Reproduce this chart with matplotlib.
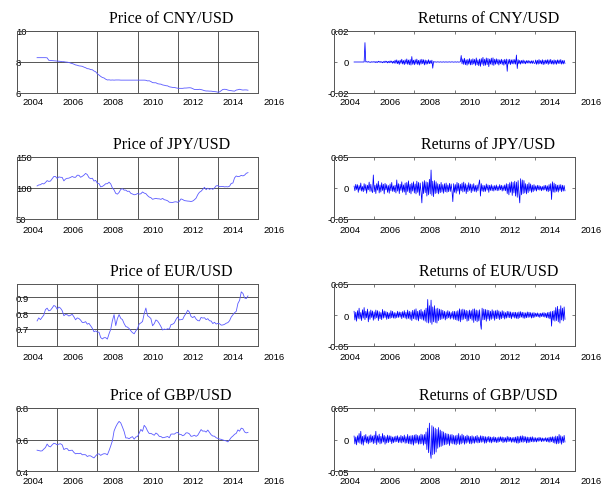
import numpy as np
import matplotlib
matplotlib.use("Agg")
import matplotlib.pyplot as plt
from matplotlib.transforms import ScaledTranslation

# ---------------- data ----------------
titles_price = ["Price of CNY/USD", "Price of JPY/USD", "Price of EUR/USD", "Price of GBP/USD"]
titles_ret = ["Returns of CNY/USD", "Returns of JPY/USD", "Returns of EUR/USD", "Returns of GBP/USD"]

x_ticks = [2004, 2006, 2008, 2010, 2012, 2014, 2016]
x_ticklabels = ["2004", "2006", "2008", "2010", "2012", "2014", "2016"]

# monthly prices, Jan 2005 .. Jul 2015
cny_price = [
    8.28, 8.28, 8.28, 8.28, 8.28, 8.28, 8.27, 8.11, 8.10, 8.09, 8.08, 8.07,
    8.06, 8.05, 8.04, 8.02, 8.02, 8.00, 7.99, 7.97, 7.93, 7.90, 7.86, 7.81,
    7.79, 7.75, 7.74, 7.72, 7.67, 7.63, 7.57, 7.56, 7.51, 7.50, 7.42, 7.37,
    7.24, 7.16, 7.07, 7.00, 6.97, 6.89, 6.84, 6.85, 6.83, 6.84, 6.83, 6.84,
    6.84, 6.84, 6.83, 6.83, 6.83, 6.83, 6.83, 6.83, 6.83, 6.83, 6.83, 6.83,
    6.83, 6.83, 6.83, 6.83, 6.83, 6.82, 6.78, 6.79, 6.74, 6.67, 6.66, 6.66,
    6.60, 6.58, 6.57, 6.52, 6.50, 6.47, 6.46, 6.40, 6.38, 6.36, 6.36, 6.33,
    6.31, 6.30, 6.30, 6.30, 6.32, 6.32, 6.33, 6.34, 6.33, 6.28, 6.23, 6.23,
    6.22, 6.24, 6.22, 6.19, 6.15, 6.13, 6.13, 6.12, 6.12, 6.10, 6.09, 6.08,
    6.05, 6.07, 6.15, 6.23, 6.24, 6.23, 6.19, 6.16, 6.15, 6.13, 6.12, 6.19,
    6.21, 6.24, 6.21, 6.19, 6.20, 6.20, 6.18]
jpy_price = [
    103.3, 104.9, 105.3, 107.2, 106.6, 108.8, 111.9, 110.6, 111.2, 114.9, 118.5, 118.5,
    115.5, 117.9, 117.3, 117.1, 111.5, 114.5, 115.6, 115.9, 117.2, 118.6, 117.3, 117.3,
    120.6, 120.5, 117.3, 118.8, 120.8, 123.5, 121.6, 116.7, 115.0, 115.8, 111.2, 112.3,
    107.6, 107.1, 101.8, 102.6, 104.4, 106.9, 106.9, 109.4, 106.6, 100.1, 96.9, 91.3,
    90.1, 92.9, 97.8, 98.9, 96.6, 96.6, 94.5, 94.9, 91.4, 90.3, 89.1, 89.5,
    91.1, 90.1, 90.7, 93.6, 91.8, 90.9, 87.7, 85.4, 84.4, 81.8, 82.6, 83.3,
    82.6, 82.5, 81.7, 83.2, 81.1, 80.5, 79.4, 77.1, 76.8, 76.7, 77.5, 77.8,
    76.9, 78.5, 82.4, 81.4, 79.7, 79.3, 78.9, 78.7, 78.2, 79.0, 81.0, 83.6,
    89.2, 93.1, 94.8, 97.8, 101.1, 97.3, 99.7, 97.8, 99.2, 97.8, 100.1, 103.5,
    103.8, 102.1, 102.3, 102.5, 101.8, 102.1, 101.8, 102.9, 107.4, 108.0, 116.4, 119.4,
    118.3, 118.8, 120.4, 119.5, 120.8, 123.7, 124.8]
eur_price = [
    0.750, 0.769, 0.758, 0.773, 0.787, 0.822, 0.831, 0.814, 0.818, 0.832, 0.848, 0.843,
    0.824, 0.838, 0.831, 0.815, 0.783, 0.791, 0.789, 0.781, 0.786, 0.792, 0.776, 0.757,
    0.769, 0.765, 0.755, 0.740, 0.740, 0.745, 0.729, 0.734, 0.719, 0.703, 0.681, 0.686,
    0.679, 0.678, 0.644, 0.635, 0.643, 0.643, 0.634, 0.668, 0.696, 0.751, 0.790, 0.720,
    0.765, 0.790, 0.766, 0.758, 0.733, 0.714, 0.710, 0.701, 0.687, 0.675, 0.668, 0.686,
    0.701, 0.730, 0.737, 0.746, 0.796, 0.832, 0.783, 0.775, 0.765, 0.719, 0.732, 0.756,
    0.749, 0.733, 0.714, 0.692, 0.698, 0.695, 0.700, 0.697, 0.726, 0.729, 0.737, 0.759,
    0.775, 0.756, 0.758, 0.760, 0.782, 0.797, 0.818, 0.806, 0.778, 0.771, 0.779, 0.762,
    0.752, 0.750, 0.772, 0.768, 0.770, 0.758, 0.764, 0.751, 0.749, 0.733, 0.741, 0.730,
    0.734, 0.732, 0.723, 0.724, 0.728, 0.735, 0.739, 0.751, 0.775, 0.789, 0.802, 0.811,
    0.861, 0.881, 0.935, 0.925, 0.896, 0.892, 0.909]
gbp_price = [
    0.532, 0.530, 0.527, 0.528, 0.539, 0.549, 0.571, 0.557, 0.553, 0.566, 0.576, 0.573,
    0.566, 0.571, 0.573, 0.566, 0.536, 0.542, 0.542, 0.529, 0.531, 0.532, 0.518, 0.509,
    0.512, 0.510, 0.513, 0.503, 0.504, 0.503, 0.492, 0.497, 0.496, 0.489, 0.483, 0.496,
    0.507, 0.509, 0.499, 0.506, 0.510, 0.509, 0.503, 0.529, 0.559, 0.592, 0.654, 0.680,
    0.700, 0.715, 0.705, 0.679, 0.651, 0.610, 0.610, 0.605, 0.613, 0.618, 0.602, 0.616,
    0.619, 0.640, 0.664, 0.652, 0.690, 0.677, 0.654, 0.638, 0.639, 0.633, 0.627, 0.641,
    0.634, 0.620, 0.619, 0.611, 0.613, 0.616, 0.619, 0.611, 0.634, 0.635, 0.634, 0.642,
    0.645, 0.633, 0.632, 0.624, 0.629, 0.642, 0.642, 0.636, 0.620, 0.622, 0.627, 0.620,
    0.627, 0.645, 0.663, 0.653, 0.654, 0.647, 0.660, 0.645, 0.630, 0.622, 0.621, 0.611,
    0.607, 0.603, 0.601, 0.597, 0.594, 0.591, 0.585, 0.598, 0.613, 0.622, 0.633, 0.639,
    0.661, 0.653, 0.672, 0.668, 0.648, 0.642, 0.645]

# half-monthly returns, units of 1e-4, Jan 2005 .. Jul 2015
cny_ret_e4 = [
    0, 0, 0, 0, 0, 0, 0, 0, 0, 0, 0, 0, 0, 125, 0, 2, -1, 3, -2, 1, -3, 2, -1, 2,
    -2, 3, -4, 2, -3, 5, -2, 4, -3, 2, -5, 3, -4, 6, -3, 5, -6, 4, -5, 7, -4, 6, -8, 5,
    -8, 12, -9, 14, -11, 8, -16, 12, -9, 18, -13, 10, -17, 14, -12, 20, -15, 13, -18, 16, -20, 35, -15, 12,
    -18, 15, -13, 19, -16, 11, -20, 15, -14, 18, -11, 15, -19, 13, -15, 10, -13, 15, -11, 9, -10, 12, -40, 3,
    0, 1, -1, 0, 1, 0, -1, 1, 0, -1, 0, 1, -1, 0, 1, -1, 0, 0, 1, -1, 0, 1, 0, -1,
    0, 1, -1, 0, 1, -1, 0, 1, 42, -12, 20, -16, 24, -18, 14, -21, 17, -14, 22, -19, 16, -18, 21, -13,
    17, -22, 26, -18, 14, -24, 19, -28, 22, -15, 30, -24, 18, -21, 26, -17, 23, -30, 19, -14, 25, -19, 27, -22,
    18, -15, 21, -13, 17, -20, 14, -12, 18, -16, 13, -21, 17, -14, 19, -60, 15, -13, 18, -17, 14, -12, 16, -13,
    16, -14, 45, -42, 15, -12, 11, -14, 10, -9, 13, -10, 8, -12, 9, -7, 10, -8, 7, -9, 8, -10, 9, -7,
    -10, 13, -15, 11, -14, 16, -11, 10, -13, 15, -17, 11, -14, 13, -10, 15, -16, 14, -11, 17, -13, 10, -15, 14,
    -13, 11, -15, 14, -10, 13, -11, 16, -14, 10, -13, 11, -9]
jpy_ret_e4 = [
    30, -45, 60, -25, 55, -70, 40, -35, 80, -50, 25, -60, 70, -40, 55, -85, 45, -30, 95, -55, 60, -40, -75, 210,
    -60, 45, -90, 70, -35, 110, -80, 50, -65, 85, -40, 60, -95, 75, -30, 55, -70, 40, -85, 65, -45, 90, -55, 35,
    -60, 45, -80, 130, -50, 70, -90, 60, -40, 100, -70, 50, -65, 80, -110, 90, -55, 115, -75, 60, -95, 80, -50, 100,
    -80, 65, -95, 110, -70, 90, -120, 80, -60, -240, 100, -90, 120, -75, 100, -130, 90, -110, 140, -95, 290, -120, 110, -140,
    120, -90, 100, -80, 70, -95, 60, -75, 90, -65, 55, -85, 70, -60, 80, -70, 50, -60, 75, -55, 65, -50, -220, 70,
    -70, 55, -85, 90, -50, 75, -100, 60, -45, 80, -65, 95, -55, 70, -90, 50, -60, 85, -40, 65, -75, 55, -50, 70,
    -55, 40, -65, 50, -45, 60, 130, -130, 70, -50, 45, -60, 40, -55, 65, -35, 50, -70, 45, -40, 55, -45, 35, -50,
    40, -35, 50, -45, 30, -40, 55, -30, 45, -50, 35, -40, 50, -45, 70, -90, 60, -110, 85, -70, 100, -120, 90, -80,
    110, -130, 95, -150, 120, -100, -240, 150, -110, 130, -90, 120, -80, 70, -95, 60, -75, 85, -50, 65, -70, 45, -60, 55,
    -40, 35, -50, 45, -30, 40, -35, 30, -45, 25, -35, 40, -30, 45, -50, 35, -60, 55, -45, 70, -185, 100, -65, 80,
    -70, 60, -55, 45, -65, 50, -40, 55, -60, 45, -50, 40, -45]
eur_ret_e4 = [
    60, -80, 45, -100, 70, -55, 110, -65, 40, -90, 85, -50, 120, -75, 60, -45, 95, -110, 55, -70, 80, -40, 65, -85,
    50, -65, 80, -45, 70, -90, 55, -60, 40, -75, 90, -50, 65, -40, 55, -70, 45, -60, 35, -55, 70, -45, 60, -50,
    40, -55, 35, -45, 60, -40, 50, -35, 45, -60, 55, -40, 70, -50, 45, -65, 80, -55, 60, -70, 50, -90, 75, -60,
    85, -70, 100, -80, 60, -95, 75, -60, 90, -70, 55, -85, 80, -100, 110, -120, 250, -130, 150, -120, 240, -150, 130, -110,
    150, -120, 100, -130, 110, -90, 95, -75, 85, -65, 75, -55, 60, -80, 50, -60, 70, -45, 55, -65, 40, -50, 60, -70,
    60, -75, 55, -85, 70, -95, 100, -110, 85, -80, 95, -70, 85, -60, 75, -100, 65, -90, 80, -60, 70, -85, 95, -120,
    100, -90, 80, -110, 70, -95, 85, -130, -230, 110, -80, 95, -75, 90, -100, 80, -65, 75, -90, 60, -70, 85, -55, 65,
    -85, 70, -60, 80, -55, 65, -75, 50, -60, 70, -45, 55, -65, 40, -50, 60, -40, 55, -45, 50, -60, 40, -35, 45,
    -50, 45, -55, 40, -60, 50, -45, 55, -35, 45, -50, 40, -55, 35, -45, 50, -40, 45, -35, 40, -50, 35, -45, 40,
    -35, 30, -25, 35, -30, 25, -40, 30, -25, 35, -30, 40, -35, 30, -45, 40, -50, 45, -60, 55, -180, 60, -85, 70,
    -100, 120, -90, 140, -110, 95, -130, 150, -80, 110, -95, 130, -70]
gbp_ret_e4 = [
    55, -70, 40, -85, 60, -45, 95, -60, 130, -75, 50, -90, 65, -40, 80, -55, 45, -70, 60, -50, 75, -40, 55, -65,
    70, -55, 130, -80, 60, -45, 85, -70, 50, -60, 95, -40, 65, -75, 45, -55, 70, -50, 60, -35, 55, -65, 40, -50,
    45, -40, 55, -35, 60, -50, 40, -45, 65, -55, 50, -40, 70, -60, 45, -55, 80, -65, 55, -70, 60, -75, 65, -90,
    70, -60, 80, -55, 65, -75, 60, -70, 85, -65, 75, -90, 80, -70, 120, -160, 180, -210, 260, -190, -300, 220, -240, 200,
    -230, 180, -200, 160, -140, 190, -120, 150, -110, 130, -95, 120, -85, 100, -80, 90, -70, 85, -95, 75, -60, 80, -70, 65,
    -75, 60, -85, 70, -65, 95, -80, 60, -70, 85, -55, 65, -75, 50, -60, 70, -45, 55, -65, 50, -70, 60, -55, 45,
    -60, 50, -45, 65, -55, 40, -50, 60, -45, 55, -40, 50, -60, 45, -55, 40, -35, 50, -45, 40, -55, 35, -40, 45,
    -40, 35, -50, 30, -45, 40, -35, 45, -30, 40, -50, 35, -40, 30, -45, 50, -35, 40, -30, 35, -45, 30, -40, 35,
    -45, 40, -55, 50, -60, 45, -50, 55, -40, 60, -45, 50, -35, 45, -55, 40, -50, 35, -45, 40, -35, 45, -40, 30,
    -35, 30, -40, 25, -30, 35, -25, 30, -35, 25, -30, 20, -25, 30, -35, 25, -40, 35, -45, 40, -35, 45, -50, 40,
    -60, 55, -70, 50, -65, 80, -55, 60, -75, 45, -50, 65, -40]

price_series = [cny_price, jpy_price, eur_price, gbp_price]
ret_series = [cny_ret_e4, jpy_ret_e4, eur_ret_e4, gbp_ret_e4]

price_ylims = [(6, 10), (50, 150), (0.59, 0.985), (0.4, 0.8)]
price_yticks = [[6, 8, 10], [50, 100, 150], [0.7, 0.8, 0.9], [0.4, 0.6, 0.8]]
price_yticklabels = [["6", "8", "10"], ["50", "100", "150"], ["0.7", "0.8", "0.9"], ["0.4", "0.6", "0.8"]]

ret_ylims = [(-0.02, 0.02), (-0.05, 0.05), (-0.05, 0.05), (-0.05, 0.05)]
ret_yticks = [[-0.02, 0, 0.02], [-0.05, 0, 0.05], [-0.05, 0, 0.05], [-0.05, 0, 0.05]]
ret_yticklabels = [["-0.02", "0", "0.02"], ["-0.05", "0", "0.05"], ["-0.05", "0", "0.05"], ["-0.05", "0", "0.05"]]

START_YEAR = 2005.0

# ---------------- layout ----------------
W, H = 601, 489
DPI = 100
fig = plt.figure(figsize=(W / DPI, H / DPI), dpi=DPI)
fig.patch.set_facecolor("white")

rows = [(32, 94), (158, 220), (285, 347), (409, 472)]
cols = [(17, 258), (334, 575)]
xlabel_pads = [3.0, 4.0, 4.0, 3.6]

title_font = "Liberation Serif"
tick_font = "Liberation Sans"


def rect(x0, y0, x1, y1):
    return [x0 / W, 1 - y1 / H, (x1 - x0) / W, (y1 - y0) / H]


xoff = ScaledTranslation(5 / DPI, 0, fig.dpi_scale_trans)

for r in range(4):
    for c in range(2):
        x0, x1 = cols[c]
        y0, y1 = rows[r]
        ax = fig.add_axes(rect(x0, y0, x1, y1))
        if c == 0:
            vals = np.array(price_series[r], dtype=float)
            t = START_YEAR + np.arange(len(vals)) / 12.0
            ax.plot(t, vals, color="#5a5aff", lw=0.6)
            ax.set_ylim(*price_ylims[r])
            ax.set_yticks(price_yticks[r])
            ax.set_yticklabels(price_yticklabels[r])
            ax.grid(True, color="#3a3a3a", lw=0.6)
            ax.tick_params(axis="both", direction="in", length=0, labelsize=6.8)
            ax.tick_params(axis="y", pad=0.8)
            title = titles_price[r]
        else:
            vals = np.array(ret_series[r], dtype=float) * 1e-4
            t = START_YEAR + np.arange(len(vals)) / 24.0
            ax.plot(t, vals, color="#0000ff", lw=0.55)
            ax.set_ylim(*ret_ylims[r])
            ax.set_yticks(ret_yticks[r])
            ax.set_yticklabels(ret_yticklabels[r])
            ax.tick_params(axis="both", direction="in", length=2.5, width=0.5,
                           top=True, right=True, labelsize=6.8, color="#444444")
            ax.tick_params(axis="y", pad=-11)
            title = titles_ret[r]

        ax.set_xlim(2004, 2016)
        ax.set_xticks(x_ticks)
        ax.set_xticklabels(x_ticklabels)
        ax.tick_params(axis="x", pad=xlabel_pads[r])
        for lab in ax.get_xticklabels():
            lab.set_fontfamily(tick_font)
            lab.set_horizontalalignment("left")
            lab.set_transform(lab.get_transform() + xoff)
        for lab in ax.get_yticklabels():
            lab.set_fontfamily(tick_font)
            lab.set_horizontalalignment("left" if c == 0 else "right")
        for sp in ax.spines.values():
            sp.set_color("#555555")
            sp.set_linewidth(0.7)
        ax.set_title(title, x=0.64, fontfamily=title_font, fontsize=11.5, pad=6.5)

fig.savefig("out.png", dpi=DPI, facecolor="white")
